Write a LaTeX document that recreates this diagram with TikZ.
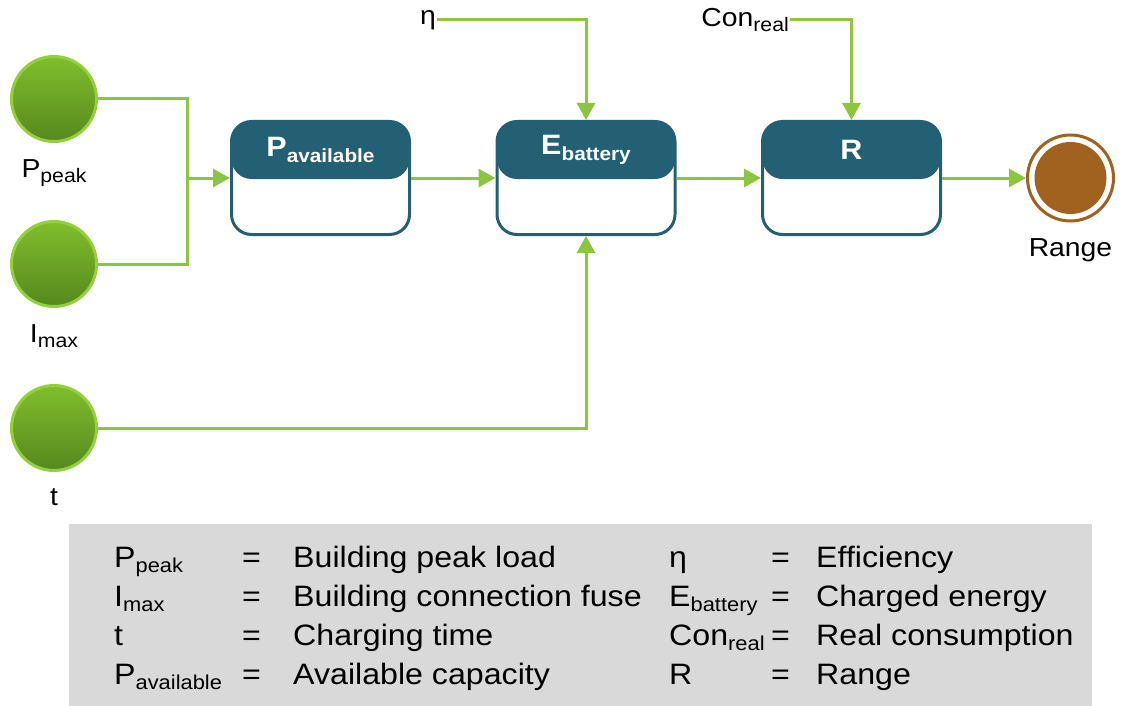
\documentclass[tikz,border=0pt]{standalone}
\usepackage{fontspec}
\setmainfont[FakeStretch=1.09]{Liberation Sans}
\usetikzlibrary{arrows.meta, positioning, calc}

\definecolor{boxteal}{RGB}{36,96,115}
\definecolor{flowgreen}{RGB}{140,198,63}
\definecolor{ringgreen}{RGB}{146,208,60}
\definecolor{balltop}{RGB}{128,190,44}
\definecolor{ballbottom}{RGB}{86,136,30}
\definecolor{rangebrown}{RGB}{160,98,30}
\definecolor{legendgray}{RGB}{217,217,217}
\newcommand{\varsub}[3][0.75]{#2\raisebox{-0.2em}{\scalebox{#1}{#3}}}

\begin{document}
\begin{tikzpicture}[x=1pt, y=-1pt, >={Triangle[length=17pt, width=18pt]},
  font=\fontsize{26}{30}\selectfont,
  flow/.style={draw=flowgreen, line width=3pt},
  inball/.style={circle, draw=ringgreen, line width=3pt, minimum size=85pt, inner sep=0pt, top color=balltop, bottom color=ballbottom},
  endball/.style={circle, draw=rangebrown, line width=3pt, fill=white, minimum size=86pt, inner sep=0pt,
    path picture={\fill[rangebrown] (path picture bounding box.center) circle[radius=36pt];}},
  stagebox/.style={rectangle, rounded corners=20pt, draw=boxteal, line width=3pt, fill=white, minimum width=178pt, minimum height=113pt,
    path picture={\fill[boxteal] (path picture bounding box.north west) rectangle ([yshift=-57.5pt]path picture bounding box.north east);}},
  headtext/.style={text=white, font=\bfseries\fontsize{28}{33}\selectfont, yshift=28pt},
  legtext/.style={anchor=base west, inner sep=0pt, font=\fontsize{29.5}{34}\selectfont}]

\useasboundingbox (0,0) rectangle (1121,706);

\node[inball] (ppeak) at (54,99) {};
\node[inball] (imax) at (54,264) {};
\node[inball] (tcharge) at (54,428) {};
\node[below=13pt of ppeak] (ppeak-lbl) {\varsub{P}{peak}};
\node[below=13pt of imax] (imax-lbl) {\varsub{I}{max}};
\node[below=13pt of tcharge] (tcharge-lbl) {t};

\node[stagebox, label={[headtext, name=pav-title]center:\varsub[0.68]{P}{available}}] (pav) at (320.5,178) {};
\node[stagebox, label={[headtext, name=ebat-title]center:\varsub[0.68]{E}{battery}}] (ebat) at (586,178) {};
\node[stagebox, label={[headtext, name=rng-title]center:R}] (rng) at (851.5,178) {};

\node[endball] (range) at (1070.5,178) {};
\node[below=13pt of range] (range-lbl) {Range};

\node[anchor=east, inner sep=1pt] (eta) at (437,20) {η};
\node[anchor=east, inner sep=1pt] (conreal) at (790,20) {\varsub{Con}{real}};

\coordinate (join) at (187,178);

\draw[flow] (ppeak.east) -| (join) |- (imax.east);
\draw[flow, ->] (join) -- (pav.west);
\draw[flow, ->] (pav.east) -- (ebat.west);
\draw[flow, ->] (ebat.east) -- (rng.west);
\draw[flow, ->] (rng.east) -- (range.west);
\draw[flow, ->] (tcharge.east) -| (ebat.south);
\draw[flow, ->] (eta.east) -| (ebat.north);
\draw[flow, ->] (conreal.east) -| (rng.north);

\node[fill=legendgray, anchor=north west, inner sep=0pt, minimum width=1023pt, minimum height=182pt] (legend) at (69,524) {};
\foreach \row/\lsym/\ldesc/\rsym/\rdesc in {
    0/{\varsub[0.68]{P}{peak}}/Building peak load/η/Efficiency,
    1/{\varsub[0.68]{I}{max}}/Building connection fuse/{\varsub[0.68]{E}{battery}}/Charged energy,
    2/t/Charging time/{\varsub[0.68]{Con}{real}}/Real consumption,
    3/{\varsub[0.68]{P}{available}}/Available capacity/R/Range}
{
  \node[legtext] (lsym-\row) at (114,567+39*\row) {\lsym};
  \node[legtext] (leq-\row) at (242,567+39*\row) {=};
  \node[legtext] (ldesc-\row) at (293,567+39*\row) {\ldesc};
  \node[legtext] (rsym-\row) at (669,567+39*\row) {\rsym};
  \node[legtext] (req-\row) at (771,567+39*\row) {=};
  \node[legtext] (rdesc-\row) at (816,567+39*\row) {\rdesc};
}

\end{tikzpicture}
\end{document}
